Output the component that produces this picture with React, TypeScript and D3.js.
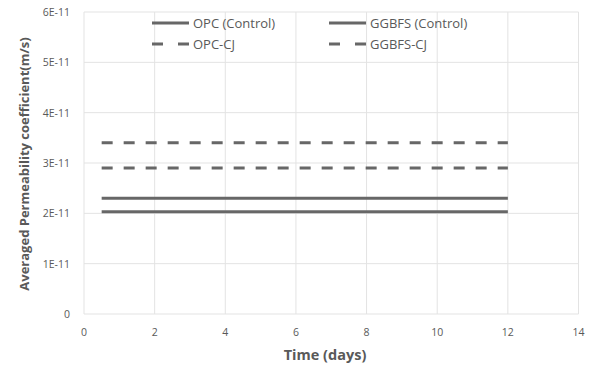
import React from "react";
import * as d3 from "d3";

const xTicks = [0, 2, 4, 6, 8, 10, 12, 14];
const yTicks = [0, 1e-11, 2e-11, 3e-11, 4e-11, 5e-11, 6e-11];
const yTickLabels = ["0", "1E-11", "2E-11", "3E-11", "4E-11", "5E-11", "6E-11"];
const timeDays = [0.5, 12];
const seriesNames = ["OPC (Control)", "GGBFS (Control)", "OPC-CJ", "GGBFS-CJ"];
const opcControl = [2.3e-11, 2.3e-11];
const ggbfsControl = [2.03e-11, 2.03e-11];
const opcCJ = [3.4e-11, 3.4e-11];
const ggbfsCJ = [2.9e-11, 2.9e-11];

const seriesValues = [opcControl, ggbfsControl, opcCJ, ggbfsCJ];
const dashed = [false, false, true, true];

export default function App() {
  const W = 600, H = 384;
  const x = d3.scaleLinear().domain([0, 14]).range([84, 578.5]);
  const y = d3.scaleLinear().domain([0, 6e-11]).range([314, 12]);
  const line = d3.line<[number, number]>().x(d => x(d[0])).y(d => y(d[1]));
  const font = "'Open Sans', 'Liberation Sans', Arial, sans-serif";
  const textColor = "#595959";
  const lineColor = "#676767";
  const legendPos = [
    { x: 152, y: 23 },
    { x: 329, y: 23 },
    { x: 152, y: 44 },
    { x: 329, y: 44 },
  ];
  return (
    <svg width={W} height={H} style={{ position: "absolute", left: 0, top: 0, background: "#fff" }}>
      <rect x={0} y={0} width={W} height={H} fill="#fff" />
      {xTicks.map(t => (
        <line key={"gx" + t} x1={x(t)} x2={x(t)} y1={y(0)} y2={y(6e-11)} stroke="#e3e3e3" strokeWidth={1} />
      ))}
      {yTicks.map(t => (
        <line key={"gy" + t} x1={x(0)} x2={x(14)} y1={y(t)} y2={y(t)} stroke="#e3e3e3" strokeWidth={1} />
      ))}
      {xTicks.map(t => (
        <text key={"tx" + t} x={x(t)} y={336} textAnchor="middle" fontFamily={font} fontSize={10.5} fill={textColor}>{t}</text>
      ))}
      {yTicks.map((t, i) => (
        <text key={"ty" + t} x={70} y={y(t) + 4} textAnchor="end" fontFamily={font} fontSize={10.5} fill={textColor}>{yTickLabels[i]}</text>
      ))}
      {seriesValues.map((vals, i) => (
        <path
          key={"s" + i}
          d={line(timeDays.map((t, j) => [t, vals[j]] as [number, number])) || ""}
          fill="none"
          stroke={lineColor}
          strokeWidth={3}
          strokeDasharray={dashed[i] ? "11,11" : undefined}
        />
      ))}
      {seriesNames.map((name, i) => (
        <g key={"lg" + i}>
          <line x1={legendPos[i].x} x2={legendPos[i].x + 37} y1={legendPos[i].y} y2={legendPos[i].y}
            stroke={lineColor} strokeWidth={3} strokeDasharray={dashed[i] ? "11,15" : undefined} />
          <text x={legendPos[i].x + 41} y={legendPos[i].y + 5} fontFamily={font} fontSize={13} fill={textColor}>{name}</text>
        </g>
      ))}
      <text x={325} y={360} textAnchor="middle" fontFamily={font} fontSize={14.5} fontWeight="bold" fill={textColor}>Time (days)</text>
      <text transform={`translate(29,164) rotate(-90)`} textAnchor="middle" fontFamily={font} fontSize={13} fontWeight="bold" fill={textColor}>Averaged Permeability coefficient(m/s)</text>
    </svg>
  );
}
